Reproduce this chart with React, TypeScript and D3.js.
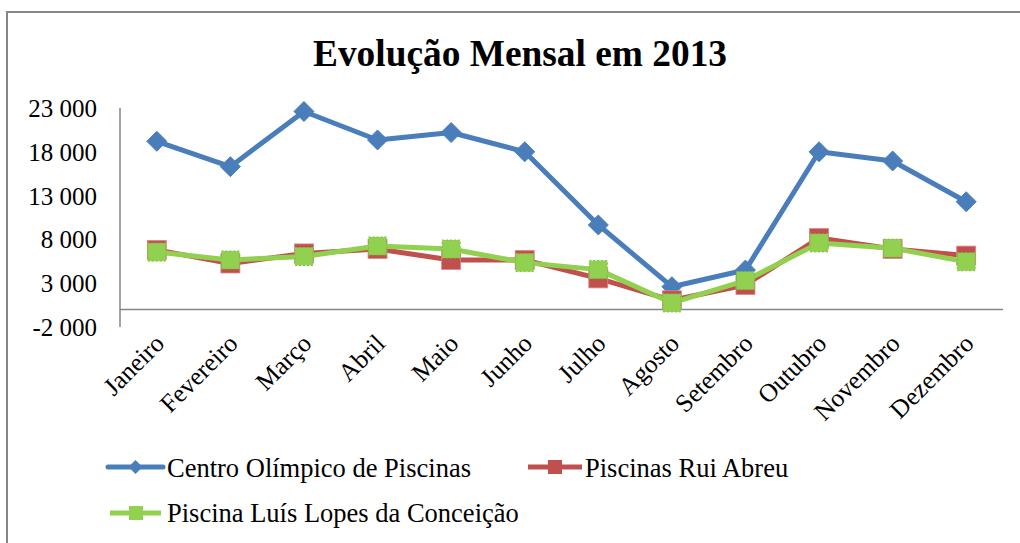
import React from "react";
import * as d3 from "d3";

const months = ["Janeiro","Fevereiro","Março","Abril","Maio","Junho","Julho","Agosto","Setembro","Outubro","Novembro","Dezembro"];
const centroOlimpico = [19200, 16300, 22600, 19350, 20200, 18000, 9650, 2600, 4500, 18000, 16950, 12300];
const ruiAbreu = [6800, 5250, 6400, 6900, 5650, 5650, 3550, 1050, 2800, 8150, 6900, 6150];
const luisLopes = [6550, 5650, 6050, 7250, 6900, 5350, 4550, 750, 3300, 7600, 7000, 5450];
const yTicks = [-2000, 3000, 8000, 13000, 18000, 23000];
const seriesNames = ["Centro Olímpico de Piscinas", "Piscinas Rui Abreu", "Piscina Luís Lopes da Conceição"];

const W = 1020, H = 543;
const left = 120, right = 1003, top = 108, bottom = 327;
const font = "'Liberation Serif', 'Times New Roman', serif";

export default function App() {
  const x = d3.scaleBand<string>().domain(months).range([left, right]);
  const y = d3.scaleLinear().domain([-2000, 23000]).range([bottom, top]);
  const cx = (m: string) => (x(m) as number) + x.bandwidth() / 2;
  const line = d3.line<number>().x((_, i) => cx(months[i])).y((v) => y(v));

  const fmt = (v: number) => {
    const s = d3.format(",")(v).replace(/,/g, " ");
    return s.replace("−", "-");
  };

  const blue = "#4a7ebb", red = "#c0504d", green = "#92d050";

  const diamond = (px: number, py: number, r: number) => `M${px},${py - r}L${px + r},${py}L${px},${py + r}L${px - r},${py}Z`;

  return (
    <svg width={W} height={H} style={{ position: "absolute", left: 0, top: 0, background: "#fff" }} fontFamily={font}>
      <rect x={0} y={0} width={W} height={H} fill="#fff" />
      <path d={`M7,${H}V12H${W}`} fill="none" stroke="#868686" strokeWidth={2} />
      <text x={520} y={66} textAnchor="middle" fontSize={38} fontWeight="bold" fontFamily={font} textLength={414} lengthAdjust="spacingAndGlyphs">Evolução Mensal em 2013</text>

      {/* axes */}
      <line x1={left} x2={left} y1={top} y2={bottom} stroke="#868686" strokeWidth={1.5} />
      <line x1={left} x2={right} y1={y(0)} y2={y(0)} stroke="#868686" strokeWidth={1.5} />

      {yTicks.map((t) => (
        <text key={t} x={97} y={y(t) + 9} textAnchor="end" fontSize={25}>{fmt(t)}</text>
      ))}

      {months.map((m) => (
        <text key={m} transform={`translate(${cx(m) + 9},${y(-2000) + 18}) rotate(-45)`} textAnchor="end" fontSize={25.5}>{m}</text>
      ))}

      {/* Centro Olímpico */}
      <path d={line(centroOlimpico) || ""} fill="none" stroke={blue} strokeWidth={5} strokeLinejoin="round" />
      {centroOlimpico.map((v, i) => (
        <path key={i} d={diamond(cx(months[i]), y(v), 10)} fill={blue} stroke={blue} strokeWidth={1} />
      ))}

      {/* Rui Abreu */}
      <path d={line(ruiAbreu) || ""} fill="none" stroke={red} strokeWidth={5} strokeLinejoin="round" />
      {ruiAbreu.map((v, i) => (
        <rect key={i} x={cx(months[i]) - 9.5} y={y(v) - 9.5} width={19} height={19} fill={red} stroke="#d88" strokeWidth={0.8} />
      ))}

      {/* Luís Lopes */}
      <path d={line(luisLopes) || ""} fill="none" stroke={green} strokeWidth={5} strokeLinejoin="round" />
      {luisLopes.map((v, i) => (
        <rect key={i} x={cx(months[i]) - 9} y={y(v) - 9} width={18} height={18} fill={green} stroke="#7cc043" strokeWidth={1} strokeDasharray="2 2" />
      ))}

      {/* legend */}
      <g>
        <line x1={108} x2={163} y1={467} y2={467} stroke={blue} strokeWidth={5} strokeLinecap="round" />
        <path d={diamond(135.5, 467, 7)} fill={blue} />
        <text x={167} y={477} fontSize={26.5}>{seriesNames[0]}</text>

        <line x1={528} x2={582} y1={467} y2={467} stroke={red} strokeWidth={5} />
        <rect x={548} y={460} width={14} height={14} fill={red} />
        <text x={585} y={477} fontSize={26.5}>{seriesNames[1]}</text>

        <line x1={110} x2={161} y1={513} y2={513} stroke={green} strokeWidth={5} />
        <rect x={129} y={506} width={14} height={14} fill={green} />
        <text x={167} y={522} fontSize={26.5}>{seriesNames[2]}</text>
      </g>
    </svg>
  );
}
